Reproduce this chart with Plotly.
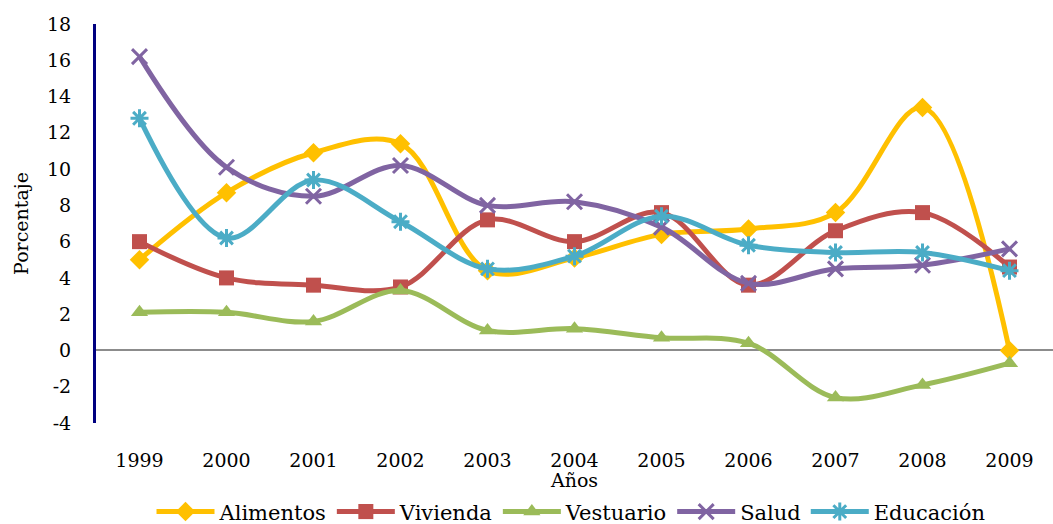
import plotly.graph_objects as go

years = ["1999", "2000", "2001", "2002", "2003", "2004", "2005", "2006", "2007", "2008", "2009"]
alimentos = [5.0, 8.7, 10.9, 11.4, 4.4, 5.1, 6.4, 6.7, 7.6, 13.4, 0.0]
vivienda = [6.0, 4.0, 3.6, 3.5, 7.2, 6.0, 7.6, 3.6, 6.6, 7.6, 4.6]
vestuario = [2.1, 2.1, 1.6, 3.3, 1.1, 1.2, 0.7, 0.4, -2.6, -1.9, -0.7]
salud = [16.2, 10.1, 8.5, 10.2, 8.0, 8.2, 6.8, 3.7, 4.5, 4.7, 5.6]
educacion = [12.8, 6.2, 9.4, 7.1, 4.5, 5.2, 7.4, 5.8, 5.4, 5.4, 4.4]

y_ticks = [-4, -2, 0, 2, 4, 6, 8, 10, 12, 14, 16, 18]
y_tick_labels = ["-4", "-2", "0", "2", "4", "6", "8", "10", "12", "14", "16", "18"]

series = [
    ("Alimentos", alimentos, "#FFC000", dict(symbol="diamond", size=15)),
    ("Vivienda", vivienda, "#C0504D", dict(symbol="square", size=15)),
    ("Vestuario", vestuario, "#9BBB59", dict(symbol="triangle-up", size=15)),
    ("Salud", salud, "#8064A2", dict(symbol="x-thin-open", size=15, line=dict(width=3))),
    ("Educación", educacion, "#4BACC6", dict(symbol="asterisk-open", size=15, line=dict(width=3))),
]

font_family = "DejaVu Serif"
fs = 19

fig = go.Figure()
for name, vals, color, mk in series:
    mk = dict(mk)
    mk["color"] = color
    if "line" in mk:
        mk["line"] = dict(width=mk["line"]["width"], color=color)
    fig.add_trace(go.Scatter(
        x=years, y=vals, name=name, mode="lines+markers",
        line=dict(color=color, width=5, shape="spline", smoothing=1.0),
        marker=mk,
    ))

fig.update_layout(
    width=1053, height=524,
    margin=dict(l=96, r=0, t=24, b=101),
    paper_bgcolor="white", plot_bgcolor="white",
    font=dict(family=font_family, size=fs, color="black"),
    showlegend=True,
    legend=dict(orientation="h", xref="paper", x=0.058, xanchor="left",
                yref="container", y=0.023, yanchor="middle",
                font=dict(family=font_family, size=21), itemwidth=58,
                tracegroupgap=0),
    xaxis=dict(type="category", range=[-0.5, 10.5], showgrid=False, showline=False,
               zeroline=False, ticks="", ticklabelstandoff=24, automargin=False,
               title=dict(text="Años", standoff=4, font=dict(family=font_family, size=fs))),
    yaxis=dict(range=[-4, 18], tickvals=y_ticks, ticktext=y_tick_labels, showgrid=False,
               showline=True, linecolor="#000080",
               linewidth=3, zeroline=True, zerolinecolor="#8C8C8C", zerolinewidth=2,
               ticks="", ticklabelstandoff=18, automargin=False,
               title=dict(text="Porcentaje", standoff=14, font=dict(family=font_family, size=fs))),
)

fig.write_html("out.html", config={"displayModeBar": False},
               post_script="document.body.style.margin='0';")
